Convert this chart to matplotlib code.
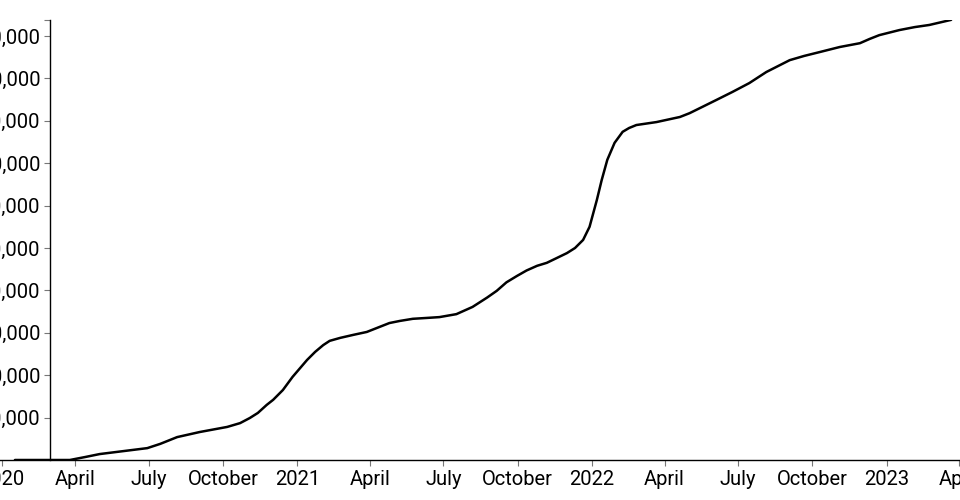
import matplotlib
matplotlib.use("Agg")
import matplotlib.pyplot as plt
import numpy as np
import pandas as pd

# Datos (acumulado, en millones)
fechas = ["2020-01-17", "2020-03-25", "2020-04-13", "2020-05-01", "2020-06-29",
          "2020-07-15", "2020-08-05", "2020-09-02", "2020-10-06", "2020-10-22",
          "2020-11-03", "2020-11-13", "2020-11-24", "2020-12-02", "2020-12-14",
          "2020-12-26", "2021-01-13", "2021-01-23", "2021-02-02", "2021-02-10",
          "2021-02-23", "2021-03-11", "2021-03-28", "2021-04-25", "2021-05-08",
          "2021-05-24", "2021-06-10", "2021-06-26", "2021-07-17", "2021-08-06",
          "2021-08-24", "2021-09-05", "2021-09-17", "2021-09-30", "2021-10-12",
          "2021-10-25", "2021-11-06", "2021-11-18", "2021-12-01", "2021-12-11",
          "2021-12-21", "2021-12-29", "2022-01-07", "2022-01-13", "2022-01-20",
          "2022-01-29", "2022-02-08", "2022-02-16", "2022-02-25", "2022-03-22",
          "2022-04-20", "2022-05-02", "2022-05-18", "2022-06-04", "2022-06-24",
          "2022-07-15", "2022-08-05", "2022-09-03", "2022-09-21", "2022-10-10",
          "2022-11-04", "2022-11-29", "2022-12-11", "2022-12-23", "2023-01-17",
          "2023-02-05", "2023-02-23", "2023-03-22"]
valores = [0.0, 0.0, 0.07, 0.14, 0.28,
           0.38, 0.54, 0.66, 0.78, 0.87,
           0.99, 1.11, 1.30, 1.42, 1.65,
           1.96, 2.36, 2.55, 2.71, 2.81,
           2.88, 2.95, 3.02, 3.23, 3.28,
           3.33, 3.35, 3.37, 3.44, 3.61,
           3.83, 3.99, 4.19, 4.34, 4.47,
           4.58, 4.65, 4.76, 4.88, 5.00,
           5.19, 5.50, 6.13, 6.60, 7.08,
           7.48, 7.74, 7.83, 7.90, 7.97,
           8.09, 8.18, 8.33, 8.49, 8.68,
           8.89, 9.15, 9.43, 9.53, 9.62,
           9.74, 9.83, 9.93, 10.02, 10.14,
           10.21, 10.26, 10.38]

tick_fechas = ["2020-01-01", "2020-04-01", "2020-07-01", "2020-10-01",
               "2021-01-01", "2021-04-01", "2021-07-01", "2021-10-01",
               "2022-01-01", "2022-04-01", "2022-07-01", "2022-10-01",
               "2023-01-01", "2023-04-01"]
tick_etiquetas = ["2020", "April", "July", "October",
                  "2021", "April", "July", "October",
                  "2022", "April", "July", "October",
                  "2023", "April"]

y_ticks = [1e6, 2e6, 3e6, 4e6, 5e6, 6e6, 7e6, 8e6, 9e6, 10e6]

plt.rcParams['font.family'] = ['Roboto', 'DejaVu Sans']

fig = plt.figure(figsize=(9.6, 5), dpi=100)
ax = fig.add_axes([0, 0.08, 1, 0.88])

x = pd.to_datetime(fechas)
y = np.array(valores) * 1e6
ax.plot(x, y, color='black', linewidth=1.8, solid_capstyle='round',
        solid_joinstyle='round')

ax.set_xlim(pd.Timestamp("2019-12-29 12:00"), pd.Timestamp("2023-04-02"))
ax.set_ylim(0, 10.377e6)

# Ejes estilo d3
ax.spines['top'].set_visible(False)
ax.spines['right'].set_visible(False)
ax.spines['left'].set_position(('axes', 50 / 960))
ax.spines['left'].set_linewidth(1.0)
ax.spines['bottom'].set_linewidth(1.0)

ax.set_xticks(pd.to_datetime(tick_fechas))
ax.set_xticklabels(tick_etiquetas)
ax.set_yticks(y_ticks + [10.377e6])
ax.set_yticklabels([f"{int(v):,}" for v in y_ticks] + [""])

ax.tick_params(axis='both', length=4.5, width=0.8, color='#777777',
               labelsize=14.5, labelcolor='black', pad=2.5)

fig.savefig('out.png', dpi=100)
